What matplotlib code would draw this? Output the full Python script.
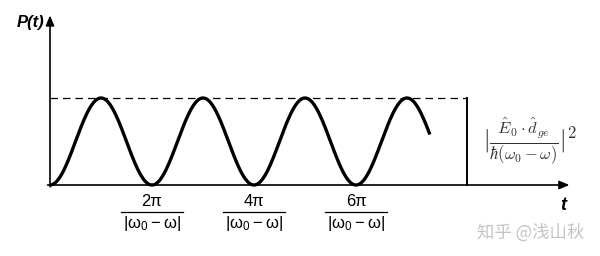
import numpy as np
import matplotlib.pyplot as plt

# values
tick_mults = [2, 4, 6]          # ticks at n*pi / |w0 - w|
tick_labels = ["2π", "4π", "6π"]
t_end = 23.4                    # curve stops here (in units of 1/|w0-w|)
amplitude = 1.0                 # |E0.dge / hbar(w0-w)|^2
box_right = 25.7                # right edge of the dashed box
x_arrow = 32.0
y_arrow = 1.95


def main():
    fig = plt.figure(figsize=(6.0, 2.56), dpi=100)
    ax = fig.add_axes([0, 0, 1, 1])
    # origin sits at pixel (50, 185) from top-left
    px_x = 102 / (2 * np.pi)
    px_y = 87.0
    ax.set_xlim(-50 / px_x, 550 / px_x)
    ax.set_ylim(-71 / px_y, 185 / px_y)
    ax.axis("off")

    # P(t) = A sin^2(|w0-w| t / 2)
    t = np.linspace(0, t_end, 600)
    p = amplitude * np.sin(t / 2) ** 2
    ax.plot(t, p, color="black", lw=2.4, solid_capstyle="butt")

    # axes with arrows
    arrow = dict(arrowstyle="-|>,head_length=0.6,head_width=0.25", color="black", lw=1.2,
                 shrinkA=0, shrinkB=0)
    ax.annotate("", xy=(x_arrow, 0), xytext=(-0.15, 0), arrowprops=arrow)
    ax.annotate("", xy=(0, y_arrow), xytext=(0, -0.02), arrowprops=arrow)

    # dashed amplitude line and vertical bar
    ax.plot([0, box_right], [amplitude, amplitude], color="black", lw=0.9, ls=(0, (6, 4)))
    ax.plot([box_right, box_right], [0, amplitude], color="black", lw=1.4)

    ax.text(-0.35, 1.87, "P(t)", fontsize=12, ha="right", va="center",
            fontstyle="italic", fontweight="bold", family="Liberation Sans")
    ax.text(x_arrow - 0.4, -0.23, "t", fontsize=13, ha="center", va="center",
            fontstyle="italic", fontweight="bold", family="Liberation Sans")

    sans = ["Liberation Sans", "DejaVu Sans"]
    for m, lab in zip(tick_mults, tick_labels):
        x = m * np.pi
        ax.text(x, -0.19, lab, fontsize=12, ha="center", va="center", family=sans)
        ax.plot([x - 1.9, x + 1.9], [-0.31, -0.31], color="black", lw=0.9)
        ax.text(x, -0.44, r"$\mathregular{|\omega_0 - \omega|}$", fontsize=12,
                ha="center", va="center", family=sans)

    ax.text(box_right + 1.0, 0.5,
            r"$|\frac{\hat{E}_0\cdot\hat{d}_{ge}}{\hbar(\omega_0-\omega)}|^2$",
            fontsize=17, ha="left", va="center", color="#333333", math_fontfamily="cm")

    ax.text(32.9, -0.55, "知乎 @浅山秋", fontsize=12.5, ha="right", va="center",
            color="#c4c4c4", family=["Noto Sans CJK SC", "DejaVu Sans"])

    fig.savefig("out.png", dpi=100)
    plt.close(fig)


if __name__ == "__main__":
    main()
